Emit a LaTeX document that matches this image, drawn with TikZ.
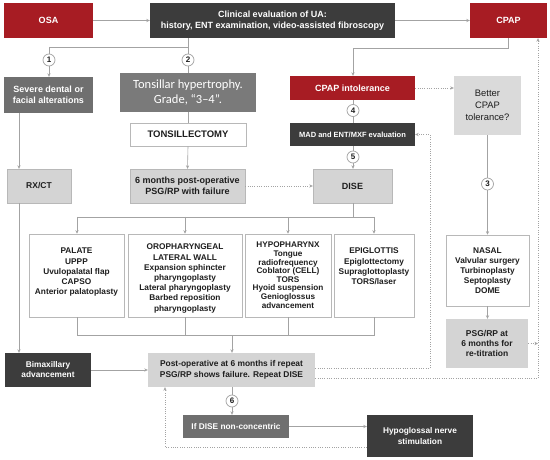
\documentclass[tikz,border=0pt]{standalone}
\usepackage{fontspec}
\setmainfont{Liberation Sans}
\newfontfamily\calib{Carlito}
\usetikzlibrary{arrows.meta}
\definecolor{cred}{HTML}{A71C23}
\definecolor{cdark}{HTML}{3C3C3C}
\definecolor{cmid}{HTML}{6F6F6F}
\definecolor{cton}{HTML}{7A7A7A}
\definecolor{clight}{HTML}{D4D4D4}
\definecolor{cline}{HTML}{A3A3A3}
\definecolor{cbord}{HTML}{B8B8B8}
\definecolor{ctext}{HTML}{1E1E1E}
\begin{document}
\begin{tikzpicture}[x=1pt,y=-1pt,
  base/.style={inner sep=1pt, align=center, font=\bfseries\fontsize{8.5}{10}\selectfont},
  redbox/.style={base, fill=cred, text=white},
  darkbox/.style={base, fill=cdark, text=white},
  midbox/.style={base, fill=cmid, text=white},
  tonbox/.style={base, fill=cton, text=white, font=\calib\fontsize{12.5}{15.5}\selectfont},
  lightbox/.style={base, fill=clight, draw=cbord, line width=0.4pt, text=ctext},
  whitebox/.style={base, fill=white, draw=cbord, line width=0.6pt, text=ctext},
  boxtext/.style={inner sep=0pt, align=center, anchor=north, text=ctext, font=\bfseries\fontsize{8.3}{10.2}\selectfont},
  conn/.style={draw=cline, line width=0.6pt},
  arr/.style={conn, -{Stealth[length=3.5pt,width=3.2pt]}},
  dotl/.style={conn, dash pattern=on 0.8pt off 1.5pt},
  darr/.style={dotl, -{Stealth[length=3.5pt,width=3.2pt]}},
  num/.style={circle, draw=cline, fill=white, line width=0.7pt, minimum size=12pt, inner sep=0pt, text=ctext, font=\bfseries\fontsize{8}{8}\selectfont}]
\useasboundingbox (0,0) rectangle (550,460);
\fill[white] (0,0) rectangle (550,460);

% ---- boxes
\node[redbox, minimum width=89pt, minimum height=35pt] (osa) at (48.5,20.5) {\fontsize{9}{10}\selectfont OSA};
\node[darkbox, minimum width=245pt, minimum height=35pt, font=\bfseries\fontsize{9}{11}\selectfont] (clin) at (272.5,20.5) {Clinical evaluation of UA:\\history, ENT examination, video-assisted fibroscopy};
\node[redbox, minimum width=77pt, minimum height=35pt] (cpap) at (508.5,20.5) {\fontsize{9}{10}\selectfont CPAP};
\node[midbox, minimum width=89pt, minimum height=36pt, font=\bfseries\fontsize{9}{11.5}\selectfont] (sev) at (48.5,95) {Severe dental or\\facial alterations};
\node[tonbox, minimum width=136pt, minimum height=39pt] (ton) at (188,92.5) {Tonsillar hypertrophy.\\Grade, “3–4”.};
\node[redbox, minimum width=125pt, minimum height=24pt, font=\bfseries\fontsize{9}{10}\selectfont] (cint) at (352.5,88) {CPAP intolerance};
\node[lightbox, draw=none, fill=clight!85, font=\fontsize{9.4}{12.2}\selectfont, minimum width=67pt, minimum height=59pt] (better) at (487.5,105.5) {Better\\CPAP\\tolerance?};
\node[whitebox, minimum width=116pt, minimum height=23pt, font=\bfseries\fontsize{9.5}{10}\selectfont] (tsl) at (188,134.5) {TONSILLECTOMY};
\node[darkbox, minimum width=125pt, minimum height=23pt, font=\bfseries\fontsize{7.5}{9}\selectfont] (mad) at (352.5,134.5) {MAD and ENT/MXF evaluation};
\node[lightbox, minimum width=64pt, minimum height=34pt] (rx) at (39,186) {RX/CT};
\node[lightbox, minimum width=115pt, minimum height=34pt, font=\bfseries\fontsize{9}{10.5}\selectfont] (six) at (187.5,186) {6 months post-operative\\PSG/RP with failure};
\node[lightbox, minimum width=79pt, minimum height=34pt, font=\bfseries\fontsize{9}{10}\selectfont] (dise) at (352.5,186) {DISE};

\node[whitebox, minimum width=95pt, minimum height=83pt] (pal) at (76.5,275.5) {};
\node[whitebox, minimum width=114pt, minimum height=83pt] (oro) at (185,275.5) {};
\node[whitebox, minimum width=86pt, minimum height=83pt] (hyp) at (288,275.5) {};
\node[whitebox, minimum width=80pt, minimum height=83pt] (epi) at (374,275.5) {};
\node[boxtext] (palT) at (76.5,248) {PALATE\\UPPP\\Uvulopalatal flap\\CAPSO\\Anterior palatoplasty};
\node[boxtext] (oroT) at (185,244) {OROPHARYNGEAL\\LATERAL WALL\\Expansion sphincter\\pharyngoplasty\\Lateral pharyngoplasty\\Barbed reposition\\pharyngoplasty};
\node[boxtext, font=\bfseries\fontsize{8.2}{8.6}\selectfont] (hypT) at (288,242) {HYPOPHARYNX\\Tongue\\radiofrequency\\Coblator (CELL)\\TORS\\Hyoid suspension\\Genioglossus\\advancement};
\node[boxtext] (epiT) at (374,248) {EPIGLOTTIS\\Epiglottectomy\\Supraglottoplasty\\TORS/laser};

\node[whitebox, minimum width=83pt, minimum height=71pt, font=\bfseries\fontsize{8.3}{10}\selectfont] (nas) at (487.5,270.5) {NASAL\\Valvular surgery\\Turbinoplasty\\Septoplasty\\DOME};
\node[lightbox, draw=none, minimum width=82pt, minimum height=49pt, font=\bfseries\fontsize{8.5}{9.6}\selectfont] (psg) at (487,343.5) {PSG/RP at\\6 months for\\re-titration};

\node[darkbox, minimum width=86pt, minimum height=34pt, font=\bfseries\fontsize{8.3}{10}\selectfont] (bim) at (48,370) {Bimaxillary\\advancement};
\node[lightbox, draw=none, minimum width=167pt, minimum height=34pt, font=\bfseries\fontsize{8.4}{10.5}\selectfont] (post) at (231.5,370) {Post-operative at 6 months if repeat\\PSG/RP shows failure. Repeat DISE};
\node[midbox, minimum width=106pt, minimum height=23pt, font=\bfseries\fontsize{8.3}{10}\selectfont] (ifd) at (236,426.5) {If DISE non-concentric};
\node[darkbox, minimum width=106pt, minimum height=42pt, font=\bfseries\fontsize{8.3}{10.5}\selectfont] (hgn) at (420,436) {Hypoglossal nerve\\stimulation};

% ---- coordinates
\coordinate (xl) at (19,0);
\coordinate (j12) at (188,47);
\coordinate (j1) at (49,47);
\coordinate (jc1) at (508,48);
\coordinate (jc2) at (353,48);
\coordinate (jd) at (353,217);
\coordinate (jdL) at (77,217);
\coordinate (jdR) at (374,217);
\coordinate (jbL) at (77,335);
\coordinate (jbR) at (374,335);
\coordinate (jbM) at (232,335);
\coordinate (dh1) at (165,447);
\coordinate (dm1) at (430,368);
\coordinate (dm2) at (430,134.5);
\coordinate (dc1) at (538,378);
\coordinate (dc2) at (538,343.5);

% ---- solid connectors
\draw[arr] (osa.east) -- (clin.west);
\draw[arr] (clin.east) -- (cpap.west);
\draw[conn] (clin.south -| j12) -- (j12) -- (j1);
\draw[arr] (j1) -- (sev.north -| j1);
\draw[conn] (j12) -- (ton.north -| j12);
\draw[arr] (sev.south -| xl) -- (rx.north -| xl);
\draw[arr] (rx.south -| xl) -- (bim.north -| xl);
\draw[conn] (ton.south) -- (tsl.north);
\draw[arr] (tsl.south) -- (six.north);
\draw[arr] (cpap.south -| jc1) -- (jc1) -- (jc2) -- (cint.north -| jc2);
\draw[conn] (cint.south -| jc2) -- (mad.north -| jc2);
\draw[arr] (mad.south -| jc2) -- (dise.north -| jc2);
\draw[arr] (better.south) -- (nas.north);
\draw[arr] (nas.south -| better) -- (psg.north -| better);
\draw[conn] (dise.south -| jd) -- (jd);
\draw[conn] (jdL) -- (jdR);
\draw[arr] (jdL) -- (pal.north -| jdL);
\draw[arr] (jdL -| oro) -- (oro.north);
\draw[arr] (jdL -| hyp) -- (hyp.north);
\draw[arr] (jdR) -- (epi.north -| jdR);
\draw[conn] (pal.south -| jbL) -- (jbL) -- (jbR) -- (epi.south -| jbR);
\draw[conn] (oro.south) -- (jbL -| oro);
\draw[conn] (hyp.south) -- (jbL -| hyp);
\draw[arr] (jbM) -- (post.north -| jbM);
\draw[arr] (bim.east) -- (post.west);
\draw[arr] (post.south -| jbM) -- (ifd.north -| jbM);
\draw[arr] (ifd.east) -- (hgn.west |- ifd.east);

% ---- dotted connectors
\draw[darr] (six.east) -- (dise.west);
\draw[darr] (cint.east) -- (better.west |- cint.east);
\draw[darr] (hgn.west |- dh1) -- (dh1) -- (post.south -| dh1);
\draw[darr] (post.east |- dm1) -- (dm1) -- (dm2) -- (mad.east);
\draw[darr] (post.east |- dc1) -- (dc1) -- (cpap.south -| dc1);
\draw[darr] (psg.east) -- (dc2);

% ---- numbers
\node[num] (n1) at (49,60) {1};
\node[num] (n2) at (188,60) {2};
\node[num] (n3) at (487.5,184) {3};
\node[num] (n4) at (353,110.5) {4};
\node[num] (n5) at (353,157) {5};
\node[num] (n6) at (232,401) {6};
\end{tikzpicture}
\end{document}
